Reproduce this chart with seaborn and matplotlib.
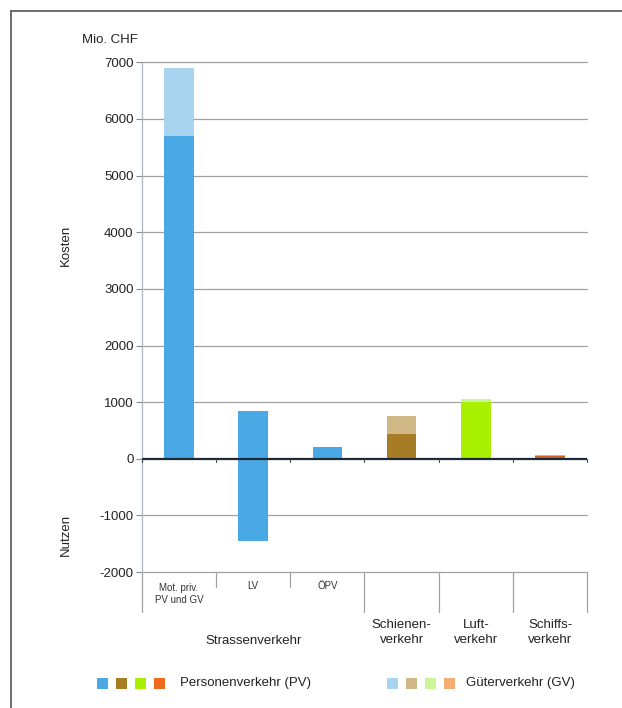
import matplotlib
matplotlib.use("Agg")
import matplotlib.pyplot as plt
import seaborn as sns
import pandas as pd
from matplotlib.lines import Line2D
from matplotlib.patches import Rectangle

# data (Mio. CHF)
bars = ["Mot. priv. PV und GV", "LV", "ÖPV", "Schienenverkehr", "Luftverkehr", "Schiffsverkehr"]
sub_labels = ["Mot. priv.\nPV und GV", "LV", "ÖPV", "", "", ""]
group_labels = ["Schienen-\nverkehr", "Luft-\nverkehr", "Schiffs-\nverkehr"]
kosten_pv = [5700, 850, 200, 440, 1000, 50]
kosten_gv = [1200, 0, 0, 320, 50, 10]
nutzen = [0, -1450, 0, 0, 0, 0]
pv_colors = ["#4aa8e4", "#4aa8e4", "#4aa8e4", "#a67c25", "#a8f000", "#c8642a"]
gv_colors = ["#a9d4f0", "#a9d4f0", "#a9d4f0", "#cfb886", "#ccf59a", "#f4ad72"]
legend_pv = ["#4aa8e4", "#a67c25", "#a8f000", "#f06a1e"]
legend_gv = ["#a9d4f0", "#cfb886", "#ccf59a", "#f4ad72"]
yticks = [-2000, -1000, 0, 1000, 2000, 3000, 4000, 5000, 6000, 7000]

df = pd.DataFrame({
    "bar": bars,
    "total": [p + g for p, g in zip(kosten_pv, kosten_gv)],
    "pv": kosten_pv,
    "nutzen": nutzen,
})

sns.set_style("white")
plt.rcParams["font.family"] = ["Liberation Sans", "DejaVu Sans"]

fig = plt.figure(figsize=(6.22, 7.08), dpi=100)
ax = fig.add_axes([0.228, 0.192, 0.716, 0.720])

# grid first
for t in yticks:
    if t != 0:
        ax.axhline(t, color="#a0a0a0", lw=0.9, zorder=0, clip_on=False)

bar_kw = dict(x="bar", hue="bar", width=0.4, legend=False, ax=ax, saturation=1,
              linewidth=0, edgecolor="none")
sns.barplot(data=df, y="total", palette=gv_colors, zorder=2, **bar_kw)
sns.barplot(data=df, y="pv", palette=pv_colors, zorder=3, **bar_kw)
sns.barplot(data=df, y="nutzen", palette=pv_colors, zorder=3, **bar_kw)

ax.axhline(0, color="#1c2a38", lw=1.6, zorder=5)

ax.set_ylim(-2000, 7000)
ax.set_xlim(-0.5, 5.5)
ax.set_yticks(yticks)
ax.set_yticklabels([str(t) for t in yticks], fontsize=9.5, color="#222222")
ax.tick_params(axis="y", left=True, length=4, width=0.8, color="#888888", pad=2)
ax.set_xticks([])
ax.set_xlabel("")
ax.set_ylabel("")
for s in ["top", "right", "bottom"]:
    ax.spines[s].set_visible(False)
ax.spines["left"].set_color("#b0b8c0")
ax.spines["left"].set_linewidth(1.0)

# separators under the axis
for i in range(7):
    xpos = i - 0.5
    ybot = -2265 if i in (1, 2) else -2710
    ax.plot([xpos, xpos], [-2000, ybot], color="#a0a0a0", lw=0.9, clip_on=False)
    ax.plot([xpos, xpos], [0, -60], color="#404850", lw=0.8, clip_on=False, zorder=6)

for i, lab in enumerate(sub_labels):
    if lab:
        ax.text(i, -2385 if "\n" in lab else -2244, lab, ha="center", va="center",
                fontsize=7, color="#333333", linespacing=1.3, clip_on=False)

ax.text(1, -3216, "Strassenverkehr", ha="center", va="center", fontsize=9.5,
        color="#222222", clip_on=False)
for i, lab in enumerate(group_labels):
    ax.text(3 + i, -3065, lab, ha="center", va="center", fontsize=9.5,
            color="#222222", linespacing=1.25, clip_on=False)

fig.text(0.132, 0.944, "Mio. CHF", ha="left", va="center", fontsize=9.5, color="#222222")
fig.text(0.106, 0.654, "Kosten", ha="center", va="center", rotation=90, fontsize=9.5, color="#222222")
fig.text(0.106, 0.244, "Nutzen", ha="center", va="center", rotation=90, fontsize=9.5, color="#222222")

# legend
sq = 11 / 622
sqh = 11 / 708
ly = 1 - 683 / 708
for k, c in enumerate(legend_pv):
    x0 = (97 + k * 19) / 622
    fig.patches.append(Rectangle((x0, ly - sqh / 2), sq, sqh, transform=fig.transFigure,
                                 facecolor=c, edgecolor="none"))
fig.text(180 / 622, ly, "Personenverkehr (PV)", ha="left", va="center", fontsize=9.5, color="#222222")
for k, c in enumerate(legend_gv):
    x0 = (387 + k * 19) / 622
    fig.patches.append(Rectangle((x0, ly - sqh / 2), sq, sqh, transform=fig.transFigure,
                                 facecolor=c, edgecolor="none"))
fig.text(466 / 622, ly, "Güterverkehr (GV)", ha="left", va="center", fontsize=9.5, color="#222222")

# outer frame
fig.add_artist(Line2D([11 / 622, 11 / 622], [0, 1 - 11 / 708], transform=fig.transFigure,
                      color="#555555", lw=1.2))
fig.add_artist(Line2D([11 / 622, 1], [1 - 11 / 708, 1 - 11 / 708], transform=fig.transFigure,
                      color="#555555", lw=1.2))

fig.savefig("out.png", dpi=100, facecolor="white")
